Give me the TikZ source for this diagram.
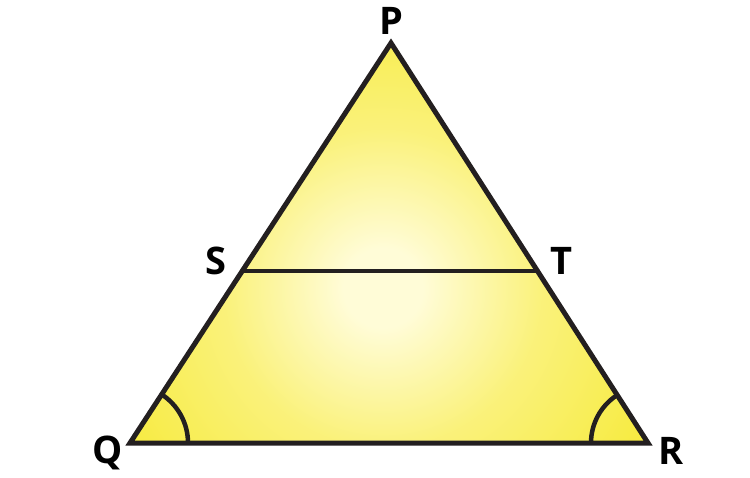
\documentclass[tikz,border=0pt]{standalone}
\usepackage{fontspec}
\setmainfont{Open Sans}
\usetikzlibrary{calc}
\definecolor{yel}{RGB}{245,231,30}
\definecolor{pale}{RGB}{255,252,215}
\definecolor{lin}{RGB}{35,31,32}
\pgfdeclareradialshading{tri}{\pgfpoint{0bp}{0bp}}{color(0bp)=(pale); color(3bp)=(pale); color(12bp)=(yel!50!pale); color(24bp)=(yel!85!pale); color(36bp)=(yel); color(100bp)=(yel)}
\begin{document}
\begin{tikzpicture}[x=1pt,y=-1pt,
  edge/.style={draw=lin,line width=5pt,line join=miter},
  thin/.style={draw=lin,line width=4.5pt},
  lbl/.style={font=\fontsize{38}{38}\selectfont\bfseries,text=black,inner sep=0pt}]
\useasboundingbox (0,0) rectangle (750,477);
\coordinate (P) at (391,43);
\coordinate (Q) at (130,443);
\coordinate (R) at (648,443);
\coordinate (S) at ($(P)!0.57!(Q)$);
\coordinate (T) at ($(P)!0.57!(R)$);
\begin{scope}
  \clip (P) -- (Q) -- (R) -- cycle;
  \shade[shading=tri] (383,288) circle (330pt);
\end{scope}
\draw[thin] ($(Q)!58pt!(P)$) arc[start angle=56.9, end angle=0, radius=58pt];
\draw[thin] ($(R)!57pt!(Q)$) arc[start angle=180, end angle=122.7, radius=57pt];
\draw[thin] (S) -- (T);
\draw[edge] (P) -- (Q) -- (R) -- cycle;
\node[lbl] (lP) at (391,21) {P};
\node[lbl] (lQ) at (108,453) {Q};
\node[lbl] (lR) at (671,451) {R};
\node[lbl] (lS) at (216,261) {S};
\node[lbl] (lT) at (561,261) {T};
\end{tikzpicture}
\end{document}
